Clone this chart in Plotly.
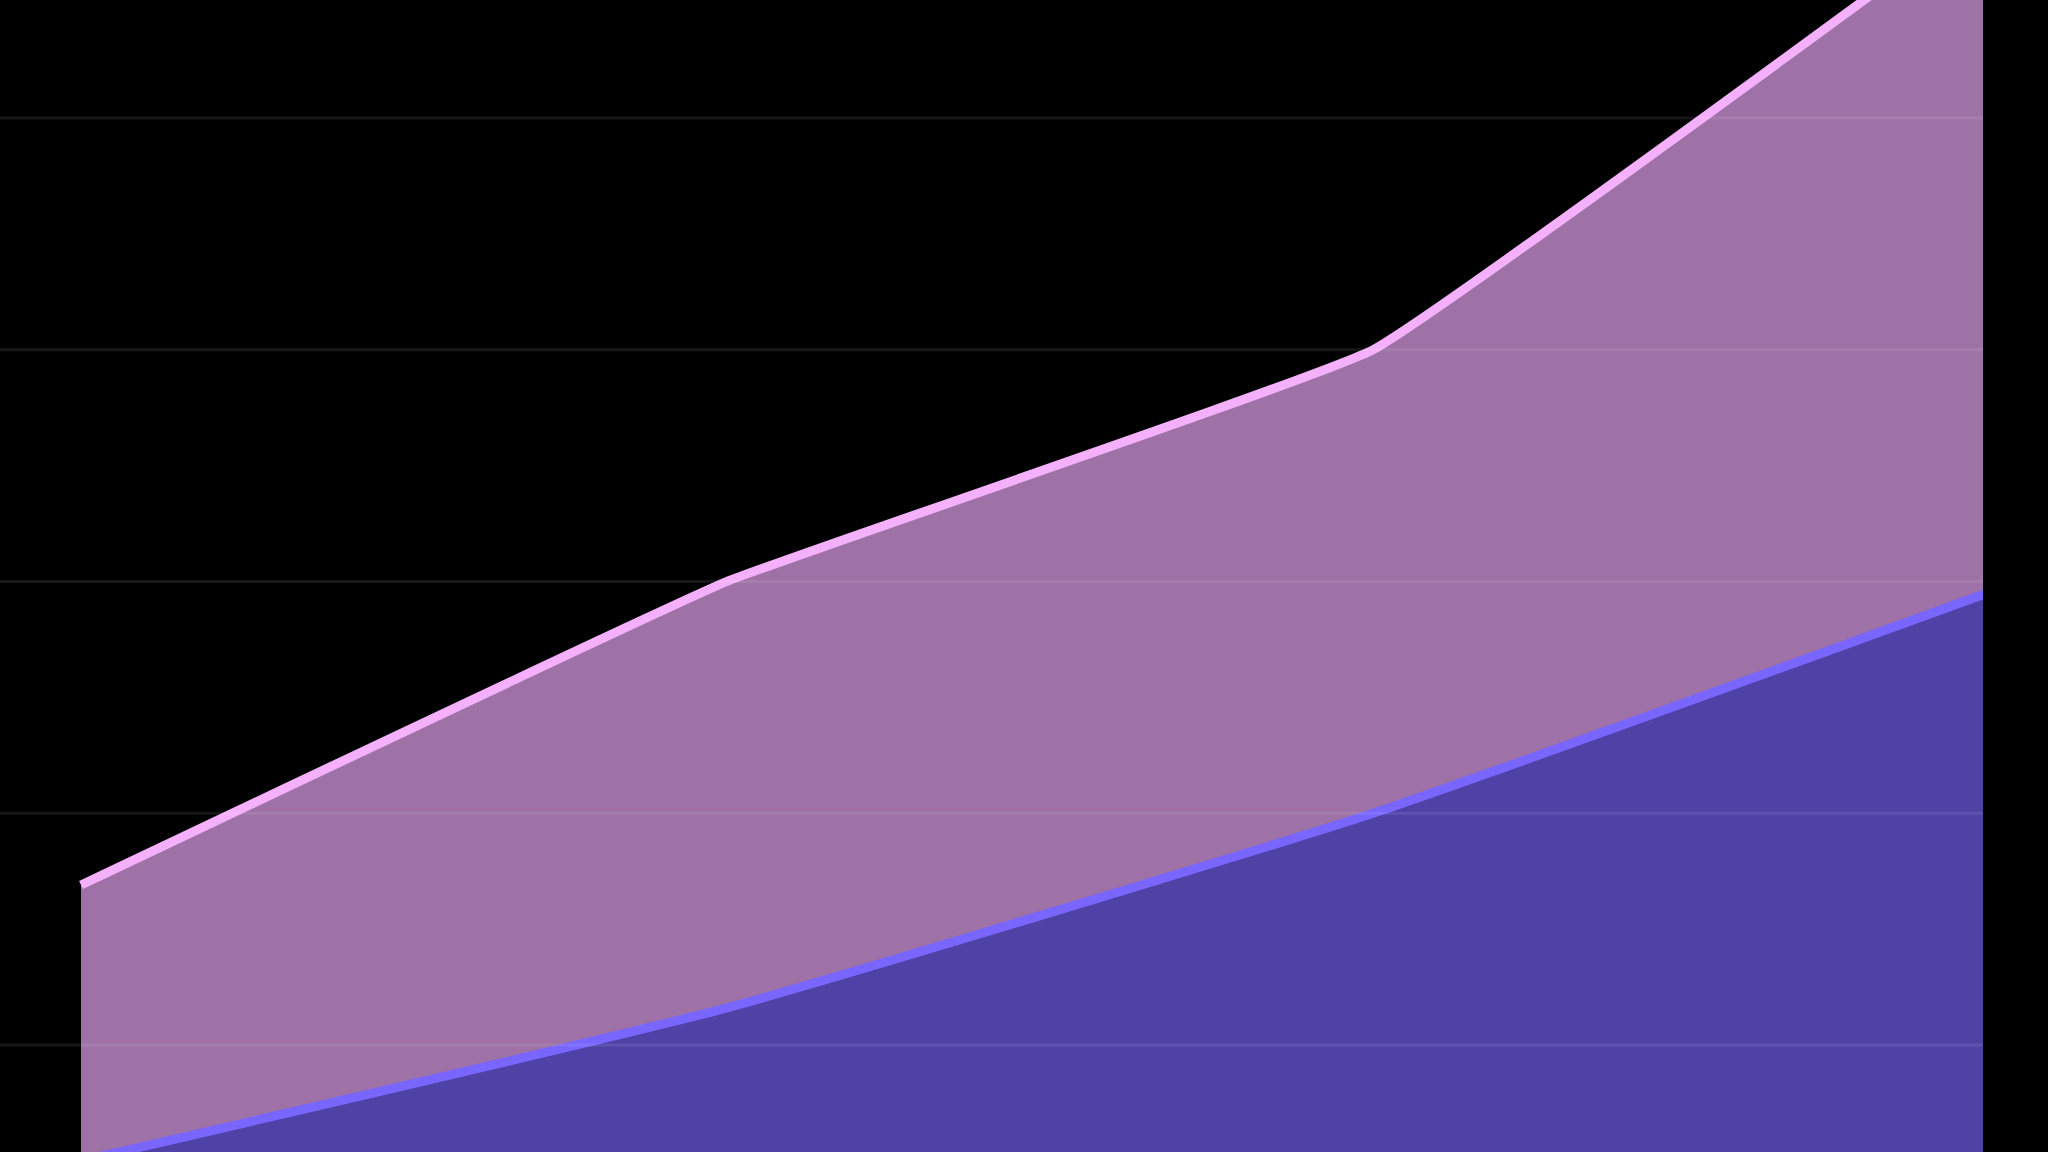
import plotly.graph_objects as go

# categories along x (no labels are shown in the crop)
periods = ["P1", "P2", "P3", "P4"]

# stacked series, read against the gridlines (10 units per grid step)
base_values = [5.0, 11.6, 20.0, 30.0]
upper_values = [11.9, 18.4, 20.0, 30.0]

# horizontal reference lines of the value axis
grid_values = [10, 20, 30, 40, 50]

BG = "#000000"
BASE_FILL = "#4e42a6"
BASE_LINE = "#7866ff"
UPPER_FILL = "#9e72a6"
UPPER_LINE = "#f4b0fa"


def make_figure():
    fig = go.Figure()
    fig.add_trace(go.Scatter(
        x=periods, y=base_values, name="Base",
        mode="lines", stackgroup="one",
        line=dict(color=BASE_LINE, width=9, shape="spline", smoothing=0.45),
        fillcolor=BASE_FILL,
    ))
    fig.add_trace(go.Scatter(
        x=periods, y=upper_values, name="Upper",
        mode="lines", stackgroup="one",
        line=dict(color=UPPER_LINE, width=9, shape="spline", smoothing=0.25),
        fillcolor=UPPER_FILL,
    ))

    # the grid sits on top of the fills in the original, faint over black
    for v in grid_values:
        fig.add_hline(y=v, layer="above",
                      line=dict(color="rgba(255,255,255,0.09)", width=3))

    fig.update_layout(
        width=2048, height=1152,
        margin=dict(l=0, r=65, t=0, b=0),
        paper_bgcolor=BG, plot_bgcolor=BG,
        showlegend=False,
    )
    fig.update_xaxes(
        type="category", range=[-0.1254, 2.944],
        showgrid=False, showticklabels=False, zeroline=False, showline=False,
    )
    fig.update_yaxes(
        range=[5.38, 55.09],
        showgrid=False, showticklabels=False, zeroline=False, showline=False,
    )
    return fig


fig = make_figure()
fig.write_html(
    "out.html",
    config={"displayModeBar": False},
    post_script="document.body.style.margin='0';document.body.style.background='#000';",
)
